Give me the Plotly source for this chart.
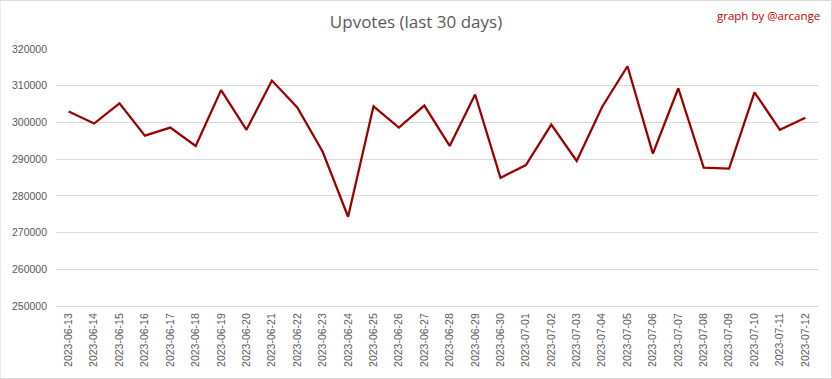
import plotly.graph_objects as go

dates = ["2023-06-13","2023-06-14","2023-06-15","2023-06-16","2023-06-17","2023-06-18",
         "2023-06-19","2023-06-20","2023-06-21","2023-06-22","2023-06-23","2023-06-24",
         "2023-06-25","2023-06-26","2023-06-27","2023-06-28","2023-06-29","2023-06-30",
         "2023-07-01","2023-07-02","2023-07-03","2023-07-04","2023-07-05","2023-07-06",
         "2023-07-07","2023-07-08","2023-07-09","2023-07-10","2023-07-11","2023-07-12"]
upvotes = [303000, 299700, 305200, 296400, 298600, 293600,
           308800, 298000, 311400, 304100, 292000, 274300,
           304400, 298600, 304600, 293600, 307600, 284900,
           288400, 299400, 289500, 304200, 315300, 291500,
           309300, 287700, 287400, 308200, 298000, 301300]
y_ticks = [250000, 260000, 270000, 280000, 290000, 300000, 310000, 320000]

fig = go.Figure()
fig.add_trace(go.Scatter(x=dates, y=upvotes, mode="lines",
                         line=dict(color="#990000", width=2.25), hoverinfo="x+y"))

fig.update_layout(
    width=832, height=379,
    margin=dict(l=56, r=14, t=49, b=73),
    paper_bgcolor="white", plot_bgcolor="white",
    showlegend=False,
    font=dict(family="Open Sans", color="#595959", size=11),
    title=dict(text="Upvotes (last 30 days)", x=0.5, xanchor="center",
               y=1 - 22/379, yanchor="middle", font=dict(size=17, color="#595959")),
    xaxis=dict(type="category", range=[-0.5, len(dates) - 0.5], tickangle=-90,
               showgrid=False, showline=True, linecolor="#d9d9d9", linewidth=1,
               ticks="", ticklabelstandoff=2,
               tickfont=dict(size=10.5, color="#595959", family="Liberation Sans")),
    yaxis=dict(range=[250000, 320000], tickvals=y_ticks, ticktext=[str(v) for v in y_ticks],
               showgrid=True, gridcolor="#d9d9d9", gridwidth=1, zeroline=False,
               showline=False, ticks="", ticklabelstandoff=8,
               tickfont=dict(size=10.5, color="#595959", family="Liberation Sans")),
    shapes=[dict(type="rect", xref="paper", yref="paper",
                 x0=-56/762, x1=1 + 13.5/762, y0=-72.5/257, y1=1 + 48.5/257,
                 line=dict(color="#d9d9d9", width=1), fillcolor="rgba(0,0,0,0)")],
    annotations=[dict(text="graph by @arcange", xref="paper", yref="paper",
                      x=1 + 4/762, y=1 + 34/257, xanchor="right", yanchor="middle",
                      showarrow=False, font=dict(size=11.5, color="#c00000", family="Open Sans"))],
)

fig.write_html("out.html")
